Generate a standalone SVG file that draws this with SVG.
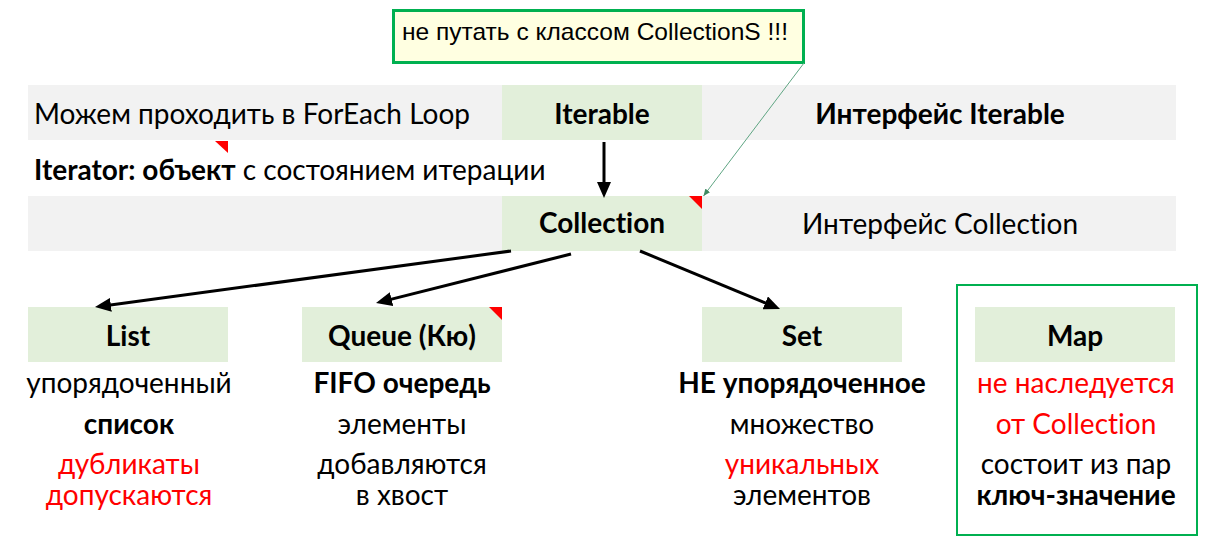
<svg xmlns="http://www.w3.org/2000/svg" width="1224" height="551" viewBox="0 0 1224 551">
<style>
.t{font-family:Lato,"Open Sans","DejaVu Sans",sans-serif;font-size:28px;fill:#000;font-variant-ligatures:none}
.b{font-weight:bold}
.c{text-anchor:middle}
.r{fill:#FF0000}
.band{fill:#F2F2F2}
.cell{fill:#E2EFDA}
.tri{fill:#FF0000}
.arr{stroke:#000;stroke-width:3;fill:none;marker-end:url(#ah)}
.note{font-family:"Liberation Sans",Arial,sans-serif;font-size:24px;fill:#000}
</style>
<defs>
<marker id="ah" markerUnits="userSpaceOnUse" markerWidth="16" markerHeight="14" refX="6" refY="7" orient="auto">
<path d="M0,0 L16,7 L0,14 z" fill="#000"/>
</marker>
<marker id="ahs" markerUnits="userSpaceOnUse" markerWidth="7" markerHeight="6" refX="7" refY="3" orient="auto">
<path d="M0,0 L7,3 L0,6 z" fill="#3F8A62"/>
</marker>
</defs>
<rect width="1224" height="551" fill="#FFFFFF"/>
<g id="row-iterable">
<rect class="band" x="28" y="85" width="1148" height="55"/>
<text class="t" x="34" y="124">Можем проходить в ForEach Loop</text>
<text class="t b" x="940" y="124" text-anchor="middle">Интерфейс Iterable</text>
<polygon class="tri" points="215,141 228,141 228,153"/>
</g>
<g id="iterable">
<rect class="cell" x="502" y="85" width="200" height="55"/>
<text class="t b c" x="602" y="124">Iterable</text>
</g>
<g id="iterator-note">
<text class="t" x="34" y="180"><tspan class="b">Iterator: объект</tspan> с состоянием итерации</text>
</g>
<g id="row-collection">
<rect class="band" x="28" y="196" width="1148" height="55"/>
<text class="t c" x="940" y="234">Интерфейс Collection</text>
</g>
<g id="collection">
<rect class="cell" x="502" y="196" width="200" height="55"/>
<text class="t b c" x="602" y="233">Collection</text>
<polygon class="tri" points="689,196 702,196 702,209"/>
</g>
<g id="comment">
<rect x="393.5" y="10.5" width="410" height="52" fill="#FFFFE1" stroke="#00B050" stroke-width="3"/>
<text class="note" x="402" y="40" textLength="386" lengthAdjust="spacingAndGlyphs">не путать с классом CollectionS !!!</text>
</g>
<g id="list">
<rect class="cell" x="28" y="307" width="200" height="55"/>
<text class="t b c" x="128" y="346">List</text>
<text class="t c" x="129" y="393">упорядоченный</text>
<text class="t b c" x="129" y="434">список</text>
<text class="t r c" x="129" y="474">дубликаты</text>
<text class="t r c" x="129" y="505">допускаются</text>
</g>
<g id="queue">
<rect class="cell" x="302" y="307" width="200" height="55"/>
<text class="t b c" x="402" y="346">Queue (Кю)</text>
<polygon class="tri" points="489,307 502,307 502,320"/>
<text class="t b c" x="402" y="393">FIFO очередь</text>
<text class="t c" x="402" y="434">элементы</text>
<text class="t c" x="402" y="474">добавляются</text>
<text class="t c" x="402" y="505">в хвост</text>
</g>
<g id="set">
<rect class="cell" x="702" y="307" width="200" height="55"/>
<text class="t b c" x="802" y="346">Set</text>
<text class="t b c" x="802" y="393">НЕ упорядоченное</text>
<text class="t c" x="802" y="434">множество</text>
<text class="t r c" x="802" y="474">уникальных</text>
<text class="t c" x="802" y="505">элементов</text>
</g>
<g id="map">
<rect x="957" y="285" width="240" height="250" fill="none" stroke="#00B050" stroke-width="2"/>
<rect class="cell" x="975" y="307" width="200" height="55"/>
<text class="t b c" x="1075" y="346">Map</text>
<text class="t r c" x="1076" y="393">не наследуется</text>
<text class="t r c" x="1076" y="434">от Collection</text>
<text class="t c" x="1076" y="474">состоит из пар</text>
<text class="t b c" x="1076" y="505">ключ-значение</text>
</g>
<g id="connectors">
<line class="arr" x1="604" y1="142" x2="604" y2="188"/>
<line class="arr" x1="511" y1="251" x2="104.9" y2="305.7"/>
<line class="arr" x1="571" y1="254" x2="385.7" y2="300.6"/>
<line class="arr" x1="640" y1="251" x2="770.8" y2="305.2"/>
<line x1="804" y1="63" x2="703.5" y2="196" stroke="#5FA583" stroke-width="1" marker-end="url(#ahs)"/>
</g>
</svg>
